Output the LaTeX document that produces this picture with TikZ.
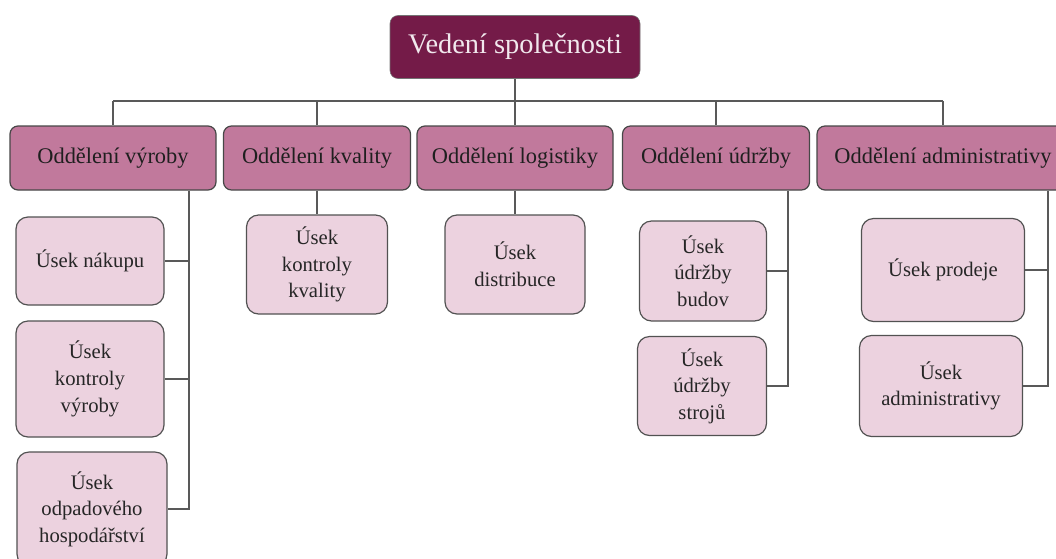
\documentclass[tikz,border=0pt]{standalone}
\usepackage{fontspec}
\setmainfont{Liberation Serif}
\definecolor{vinova}{RGB}{116,27,72}
\definecolor{ruzova}{RGB}{193,121,156}
\definecolor{svetla}{RGB}{236,210,223}
\begin{document}
\begin{tikzpicture}[
    x=0.75pt, y=-0.75pt,
    spoj/.style={draw=black!65, line width=0.8pt},
    vedeni/.style={draw=black!55, fill=vinova, rounded corners=6pt, text=white!90!vinova,
      font=\fontsize{21.3}{25}\selectfont, minimum width=187.5pt, minimum height=47.25pt},
    oddeleni/.style={draw=black!72, line width=0.9pt, fill=ruzova, rounded corners=6pt, text=black!88,
      font=\fontsize{16.8}{20}\selectfont, minimum height=48pt, inner sep=2pt},
    usek/.style={draw=black!68, line width=0.9pt, fill=svetla, rounded corners=9pt, text=black!85,
      align=center, font=\fontsize{15.5}{20}\selectfont, inner sep=2pt}
  ]
  % 1 px obrázku = 0,75 pt; osa y roste dolů.
  \useasboundingbox (0,0) rectangle (1056,558);

  % --- vedení a oddělení ---
  \node[vedeni] (vedeni) at (515,47) {Vedení společnosti};
  \node[oddeleni, minimum width=154.5pt]  (vyroba)    at (113,158) {Oddělení výroby};
  \node[oddeleni, minimum width=140.25pt] (kvalita)   at (317,158) {Oddělení kvality};
  \node[oddeleni, minimum width=147pt]    (logistika) at (515,158) {Oddělení logistiky};
  \node[oddeleni, minimum width=140.25pt] (udrzba)    at (716,158) {Oddělení údržby};
  \node[oddeleni, minimum width=189pt]    (admin)     at (943,158) {Oddělení administrativy};

  % --- úseky ---
  \node[usek, minimum width=111pt,    minimum height=66pt]    (nakup)      at (90,261)  {Úsek nákupu};
  \node[usek, minimum width=111pt,    minimum height=87pt]    (kontrolaV)  at (90,379)  {Úsek\\kontroly\\výroby};
  \node[usek, minimum width=112.5pt,  minimum height=85.5pt]  (odpad)      at (92,509)  {Úsek\\odpadového\\hospodářství};
  \node[usek, minimum width=105.75pt, minimum height=74.25pt] (kontrolaK)  at (317,264.5) {Úsek\\kontroly\\kvality};
  \node[usek, minimum width=105pt,    minimum height=74.25pt] (distribuce) at (515,264.5) {Úsek\\distribuce};
  \node[usek, minimum width=95.25pt,  minimum height=75pt]    (budovy)     at (703,271) {Úsek\\údržby\\budov};
  \node[usek, minimum width=96.75pt,  minimum height=74.25pt] (stroje)     at (702,386) {Úsek\\údržby\\strojů};
  \node[usek, minimum width=122.25pt, minimum height=77.25pt] (prodej)     at (943,270) {Úsek prodeje};
  \node[usek, minimum width=122.25pt, minimum height=75.75pt] (adminU)     at (941,386) {Úsek\\administrativy};

  % --- sběrnice pod vedením ---
  \coordinate (sbernice) at (0,101);
  \draw[spoj] (vedeni.south) -- (logistika.north);
  \draw[spoj] (vyroba.north |- sbernice) -- (admin.north |- sbernice);
  \foreach \o in {vyroba, kvalita, udrzba, admin}
    \draw[spoj] (\o.north |- sbernice) -- (\o.north);

  % --- přímé spojky ---
  \draw[spoj] (kvalita.south) -- (kontrolaK.north);
  \draw[spoj] (logistika.south) -- (distribuce.north);

  % --- boční spojky ---
  \coordinate (osaV) at (189,0);
  \coordinate (osaU) at (788,0);
  \coordinate (osaA) at (1048,0);
  \draw[spoj] (vyroba.south -| osaV) |- (odpad.east);
  \foreach \u in {nakup, kontrolaV}
    \draw[spoj] (\u.east) -- (\u.east -| osaV);
  \draw[spoj] (udrzba.south -| osaU) |- (stroje.east);
  \draw[spoj] (budovy.east) -- (budovy.east -| osaU);
  \draw[spoj] (admin.south -| osaA) |- (adminU.east);
  \draw[spoj] (prodej.east) -- (prodej.east -| osaA);
\end{tikzpicture}
\end{document}
